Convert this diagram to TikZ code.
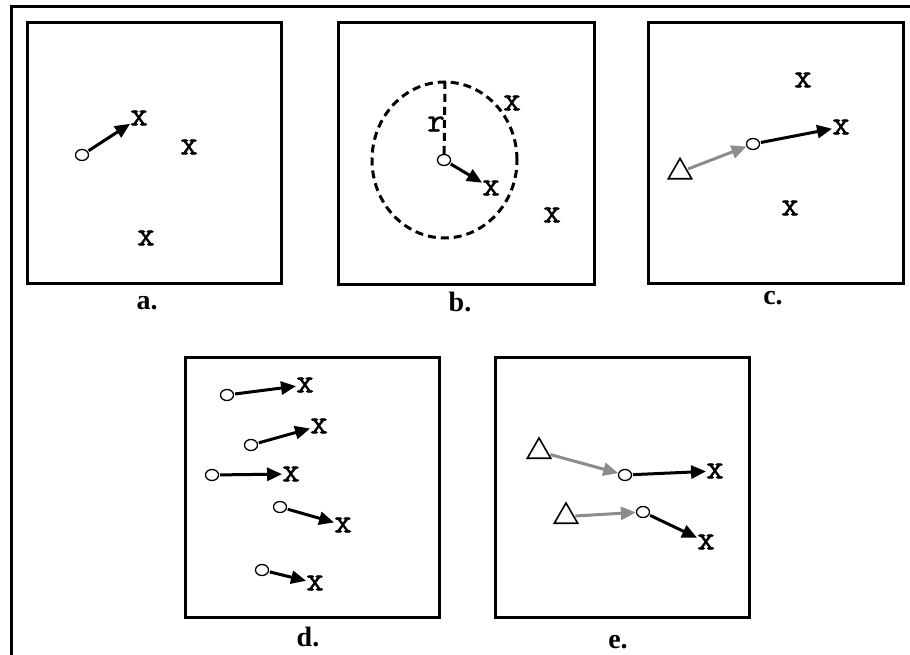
\documentclass[tikz,border=0pt]{standalone}
\usepackage{fontspec}
\setmainfont{Liberation Serif}
\newfontfamily\xfont[FakeBold=1.6]{Latin Modern Mono}
\usetikzlibrary{arrows.meta,shapes.geometric}
\definecolor{arrgray}{HTML}{8C8C8C}
\tikzset{
  outer/.style={line width=3pt},
  panel/.style={draw, line width=3pt},
  pt/.style={ellipse, draw, line width=1.3pt, minimum width=13pt, minimum height=11pt, inner sep=0pt},
  tri/.style={regular polygon, regular polygon sides=3, draw, line width=1.6pt, minimum size=27pt, inner sep=0pt},
  xm/.style={font=\fontsize{34}{34}\selectfont\xfont, inner sep=0pt},
  lab/.style={font=\fontsize{28}{28}\selectfont\bfseries, inner sep=0pt},
  arr/.style={line width=3pt, -{Triangle[length=15pt,width=13pt]}, shorten <=1pt},
  garr/.style={arr, draw=arrgray, fill=arrgray},
  dsh/.style={line width=3pt, dash pattern=on 8pt off 5pt}
}
\begin{document}
\begin{tikzpicture}[x=1pt,y=-1pt]
\useasboundingbox (0,0) rectangle (910,655);
% outer frame
\coordinate (ftl) at (11,6.5);
\coordinate (ftr) at (910,6.5);
\coordinate (fbl) at (11,655);
\draw[outer] (fbl) -- (ftl) -- (ftr);

% panel a
\draw[panel] (27,23) rectangle (281,283);
\node[pt] (a0) at (82,155) {};
\node[xm] (a1) at (139,118) {x};
\node[xm] (a2) at (189,147) {x};
\node[xm] (a3) at (146,238) {x};
\draw[arr] (a0) -- (a1);
\node[lab] (la) at (147,303) {a.};

% panel b
\draw[panel] (338,23) rectangle (594,284);
\draw[dsh] (444.5,160) ellipse [x radius=72.5pt, y radius=78pt];
\node[pt] (b0) at (444,160) {};
\coordinate (btop) at (445,82);
\draw[dsh] (b0) -- (btop);
\node[xm] (r) at (436,124) {r};
\node[xm] (b1) at (491,188) {x};
\node[xm] (b2) at (512,103) {x};
\node[xm] (b3) at (552,215) {x};
\draw[arr] (b0) -- (b1);
\node[lab] (lb) at (460,302) {b.};

% panel c
\draw[panel] (648,23) rectangle (903,283);
\node[tri] (c0) at (680,172) {};
\node[pt] (c1) at (753,144) {};
\node[xm] (c2) at (841,127) {x};
\node[xm] (c3) at (803,80) {x};
\node[xm] (c4) at (790,208) {x};
\draw[garr] (c0) -- (c1);
\draw[arr] (c1) -- (c2);
\node[lab] (lc) at (773,298) {c.};

% panel d
\draw[panel] (185,357) rectangle (439,617);
\node[pt] (d1) at (227,395) {};
\node[xm] (dx1) at (305,385) {x};
\node[pt] (d2) at (251,445) {};
\node[xm] (dx2) at (319,426) {x};
\node[pt] (d3) at (212,475) {};
\node[xm] (dx3) at (291,474) {x};
\node[pt] (d4) at (280,507) {};
\node[xm] (dx4) at (343,525) {x};
\node[pt] (d5) at (262,570) {};
\node[xm] (dx5) at (315,583) {x};
\draw[arr] (d1) -- (dx1);
\draw[arr] (d2) -- (dx2);
\draw[arr] (d3) -- (dx3);
\draw[arr] (d4) -- (dx4);
\draw[arr] (d5) -- (dx5);
\node[lab] (ld) at (308,637) {d.};

% panel e
\draw[panel] (495,357) rectangle (749,617);
\node[tri] (et1) at (539,451.5) {};
\node[pt] (e1) at (625,475) {};
\node[xm] (ex1) at (715,471) {x};
\node[tri] (et2) at (566,516.5) {};
\node[pt] (e2) at (643,512) {};
\node[xm] (ex2) at (706,542) {x};
\draw[garr] (et1) -- (e1);
\draw[arr] (e1) -- (ex1);
\draw[garr] (et2) -- (e2);
\draw[arr] (e2) -- (ex2);
\node[lab] (le) at (618,642) {e.};
\end{tikzpicture}
\end{document}
